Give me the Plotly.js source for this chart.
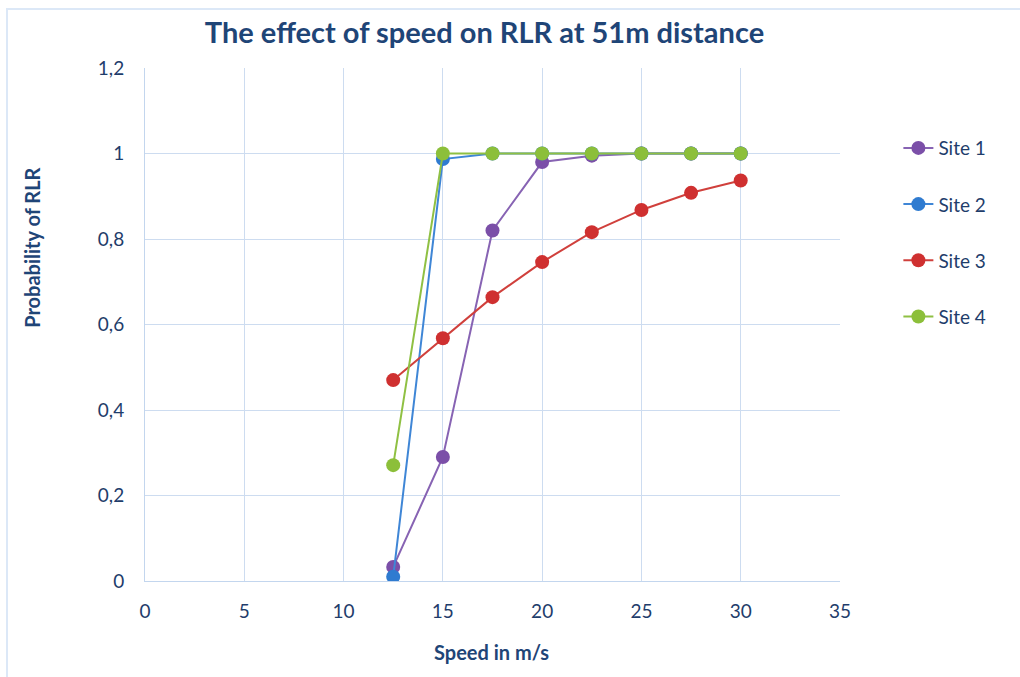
<!DOCTYPE html>
<html>
<head>
<meta charset="utf-8">
<script src="https://cdn.plot.ly/plotly-3.0.1.min.js"></script>
<style>
  html, body { margin: 0; padding: 0; background: #ffffff; }
  #wrap { position: relative; width: 1020px; height: 677px; }
  #frame { position: absolute; left: 6px; top: 8px; right: 0; bottom: 0;
           border-left: 2px solid #dce8f7; border-top: 2px solid #dce8f7; pointer-events: none; z-index: 5; }
  #chart { width: 1020px; height: 677px; }
</style>
</head>
<body>
<div id="wrap">
  <div id="chart"></div>
  <div id="frame"></div>
</div>
<script>
const speeds = [12.5, 15, 17.5, 20, 22.5, 25, 27.5, 30];
const site1 = [0.033, 0.29, 0.82, 0.98, 0.995, 1, 1, 1];
const site2 = [0.01, 0.987, 1, 1, 1, 1, 1, 1];
const site3 = [0.47, 0.568, 0.664, 0.746, 0.816, 0.868, 0.908, 0.937];
const site4 = [0.271, 1, 1, 1, 1, 1, 1, 1];
const seriesNames = ['Site 1', 'Site 2', 'Site 3', 'Site 4'];
const titleText = 'The effect of speed on RLR at 51m distance';
const xTitle = 'Speed in m/s';
const yTitle = 'Probability of RLR';
const lineColors = ['#8763b3', '#3f86d6', '#d0403c', '#8fc043'];
const markerColors = ['#7b4fa8', '#2f7bd0', '#cf3030', '#8cbf3a'];
const values = [site1, site2, site3, site4];

const traces = values.map((v, i) => ({
  x: speeds,
  y: v,
  type: 'scatter',
  mode: 'lines+markers',
  name: seriesNames[i],
  legendgroup: 'g' + i,
  line: { color: lineColors[i], width: 2 },
  marker: { color: markerColors[i], size: 14, line: { color: markerColors[i], width: 0 } }
}));

const fam = 'Lato, "Open Sans", sans-serif';
const tickFont = { family: fam, size: 19, color: '#1f3d6b' };
const layout = {
  width: 1020,
  height: 677,
  separators: ', ',
  paper_bgcolor: '#ffffff',
  plot_bgcolor: '#ffffff',
  margin: { l: 145, r: 180, t: 68, b: 96 },
  title: {
    text: titleText,
    font: { family: fam, size: 29, color: '#1f4577', weight: 'bold' },
    x: 0.475, xanchor: 'center', y: 0.951, yanchor: 'middle'
  },
  xaxis: {
    range: [0, 35], dtick: 5, tick0: 0,
    showgrid: true, gridcolor: '#cddcf0', gridwidth: 1,
    showline: true, linecolor: '#c3d6ee', linewidth: 1, mirror: false,
    zeroline: false, ticks: '', tickfont: tickFont, ticklabelstandoff: 13
  },
  yaxis: {
    range: [0, 1.2], dtick: 0.2, tick0: 0,
    showgrid: true, gridcolor: '#cddcf0', gridwidth: 1,
    showline: true, linecolor: '#c3d6ee', linewidth: 1,
    zeroline: true, zerolinecolor: '#c3d6ee', zerolinewidth: 1,
    ticks: '', tickfont: tickFont, ticklabelstandoff: 16
  },
  annotations: [
    { text: xTitle, xref: 'paper', yref: 'paper', x: 0.498, y: -0.138, xanchor: 'center', yanchor: 'middle',
      showarrow: false, font: { family: fam, size: 20, color: '#1f4577', weight: 'bold' } },
    { text: yTitle, xref: 'paper', yref: 'paper', x: -0.163, y: 0.649, xanchor: 'center', yanchor: 'middle',
      textangle: -90, showarrow: false, font: { family: fam, size: 20, color: '#1f4577', weight: 'bold' } }
  ],
  legend: {
    x: 1.084, xanchor: 'left', y: 0.881, yanchor: 'top',
    font: { family: fam, size: 19, color: '#1f3d6b' },
    tracegroupgap: 28.5, bgcolor: 'rgba(0,0,0,0)', traceorder: 'grouped'
  },
  showlegend: true
};

Plotly.newPlot('chart', traces, layout, { displayModeBar: false, staticPlot: true });
</script>
</body>
</html>
